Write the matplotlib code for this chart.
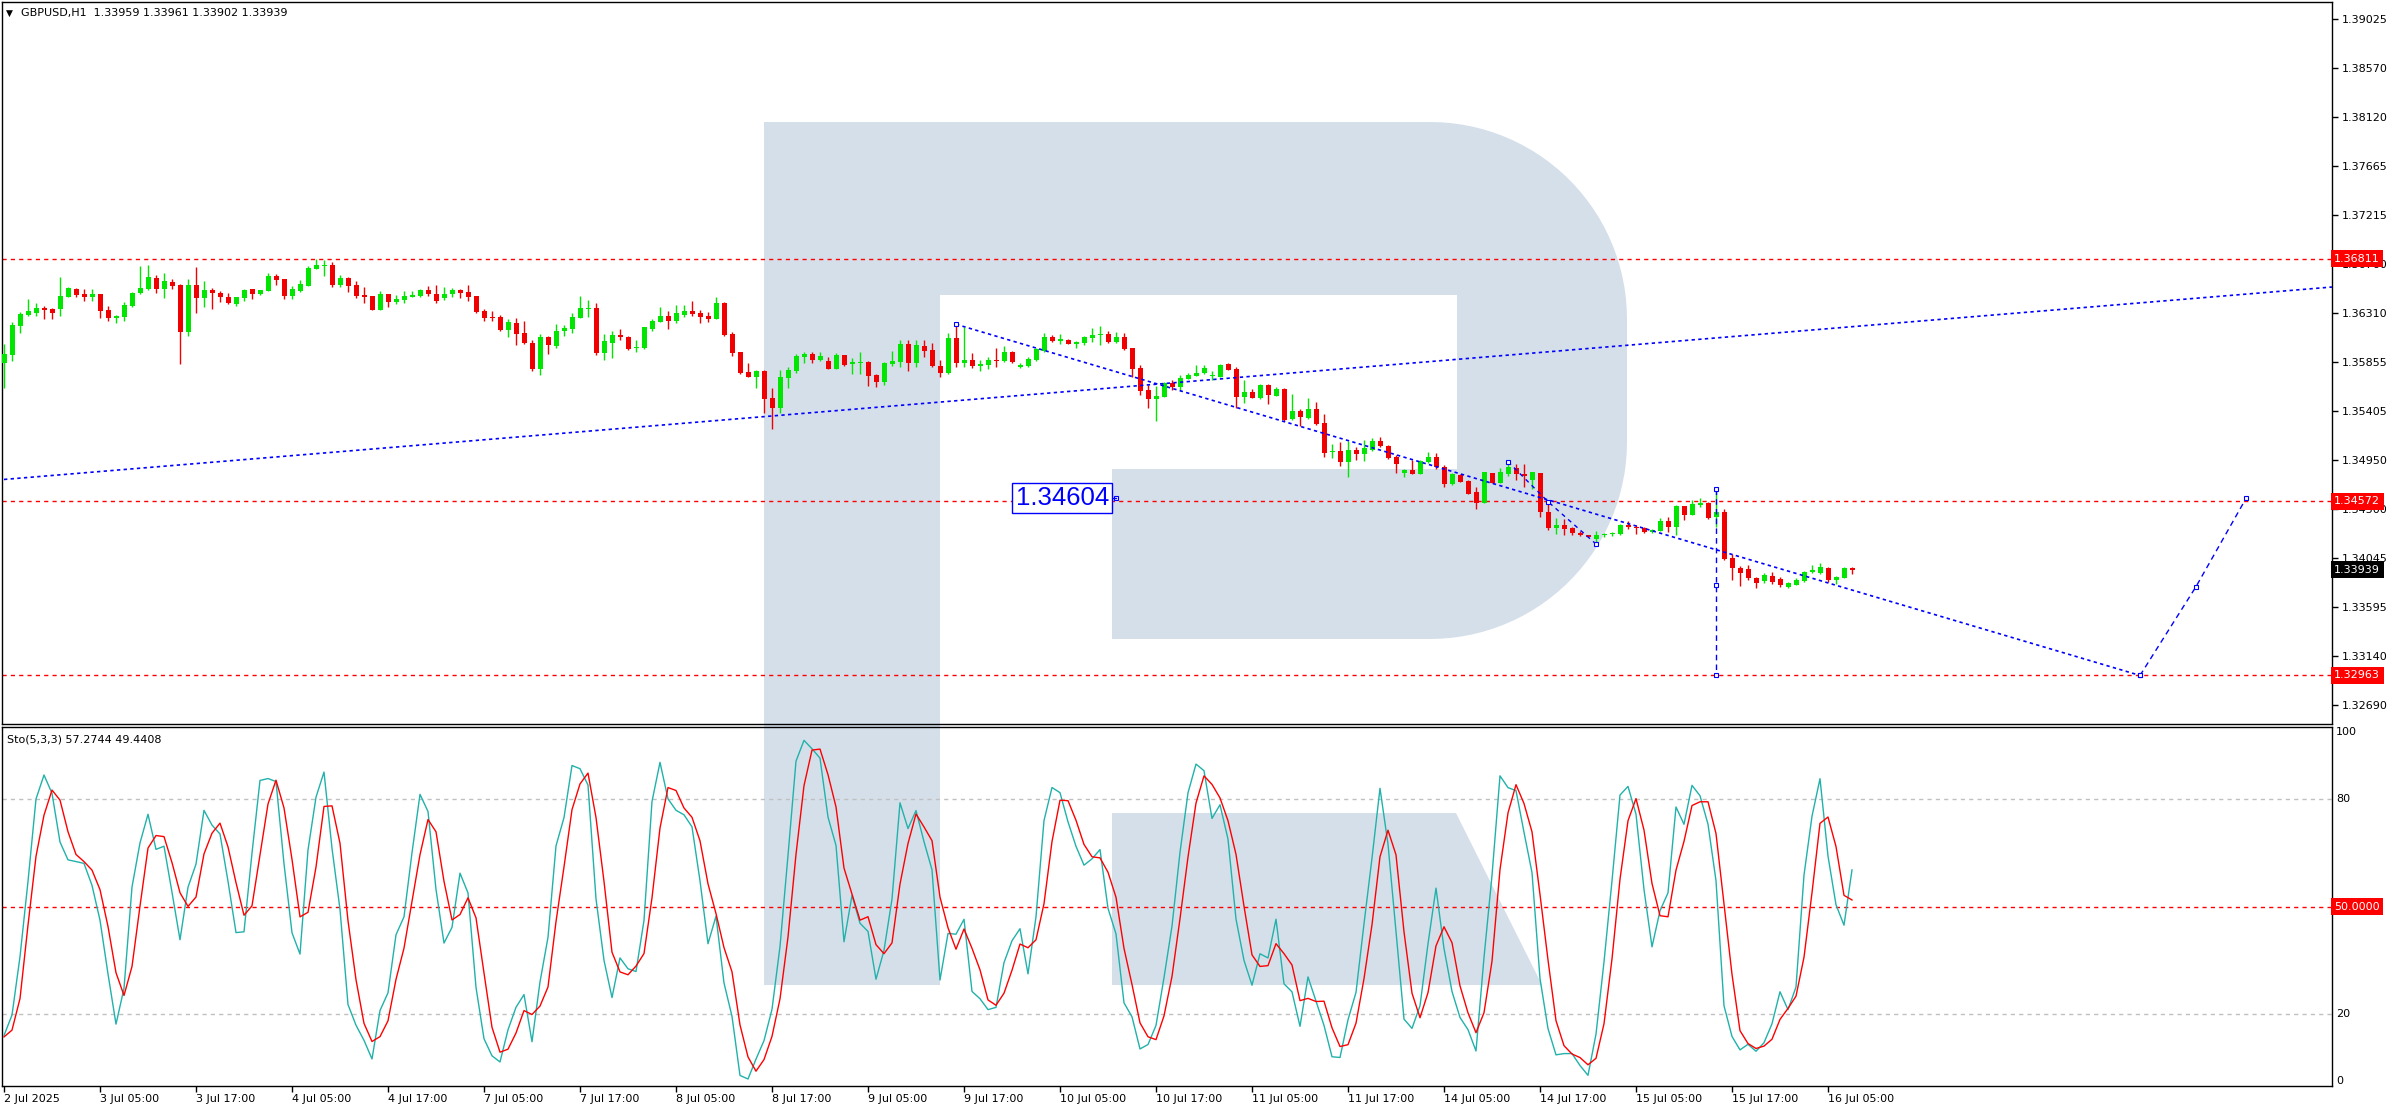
import numpy as np
import pandas as pd
import matplotlib
matplotlib.use("Agg")
import matplotlib.pyplot as plt
from matplotlib.patches import Polygon, Rectangle
from matplotlib.transforms import blended_transform_factory

# ---------------- data (GBPUSD H1, bars from 2 Jul 17:00 to 16 Jul 08:00) ----------------
opens = [1.35851,1.35922,1.36190,1.36291,1.36307,1.36356,1.36347,1.36347,1.36461,1.36531,
 1.36485,1.36461,1.36485,1.36337,1.36267,1.36276,1.36377,1.36491,1.36531,1.36633,
 1.36531,1.36596,1.36568,1.36137,1.36568,1.36451,1.36522,1.36491,1.36454,1.36396,
 1.36448,1.36528,1.36488,1.36516,1.36652,1.36624,1.36470,1.36513,1.36562,1.36716,
 1.36747,1.36756,1.36568,1.36633,1.36568,1.36476,1.36467,1.36337,1.36485,1.36411,
 1.36430,1.36458,1.36467,1.36522,1.36485,1.36448,1.36485,1.36522,1.36507,1.36467,
 1.36328,1.36273,1.36273,1.36153,1.36214,1.36122,1.36032,1.35795,1.36088,1.36005,
 1.36143,1.36165,1.36267,1.36347,1.36356,1.35940,1.36036,1.36106,1.36088,1.35989,
 1.35986,1.36162,1.36230,1.36282,1.36236,1.36291,1.36328,1.36310,1.36282,1.36254,
 1.36402,1.36116,1.35949,1.35765,1.35721,1.35774,1.35524,1.35432,1.35709,1.35774,
 1.35906,1.35931,1.35876,1.35866,1.35792,1.35922,1.35836,1.35851,1.35857,1.35737,
 1.35675,1.35842,1.35857,1.36027,1.35851,1.36005,1.35968,1.35820,1.35759,1.36079,
 1.35845,1.35876,1.35823,1.35829,1.35876,1.35866,1.35950,1.35808,1.35823,1.35876,
 1.35962,1.36088,1.36051,1.36060,1.36027,1.36036,1.36082,1.36104,1.36116,1.36042,
 1.36088,1.35986,1.35802,1.35601,1.35515,1.35534,1.35660,1.35629,1.35703,1.35728,
 1.35752,1.35725,1.35722,1.35839,1.35792,1.35534,1.35580,1.35524,1.35645,1.35546,
 1.35608,1.35327,1.35404,1.35340,1.35426,1.35293,1.35026,1.35035,1.34936,1.35044,
 1.35010,1.35044,1.35127,1.35084,1.34976,1.34828,1.34859,1.34825,1.34933,1.34982,
 1.34887,1.34727,1.34813,1.34761,1.34656,1.34560,1.34828,1.34742,1.34823,1.34876,
 1.34823,1.34768,1.34829,1.34475,1.34321,1.34352,1.34327,1.34275,1.34260,1.34220,
 1.34257,1.34266,1.34269,1.34352,1.34337,1.34327,1.34284,1.34300,1.34389,1.34337,
 1.34528,1.34444,1.34537,1.34558,1.34429,1.34475,1.34044,1.33958,1.33945,1.33865,
 1.33835,1.33881,1.33850,1.33782,1.33801,1.33838,1.33918,1.33912,1.33958,1.33844,
 1.33865,1.33959]
highs = [1.36023,1.36230,1.36322,1.36439,1.36399,1.36374,1.36353,1.36642,1.36550,1.36538,
 1.36531,1.36531,1.36488,1.36374,1.36288,1.36414,1.36507,1.36744,1.36753,1.36661,
 1.36682,1.36621,1.36575,1.36621,1.36735,1.36605,1.36538,1.36513,1.36491,1.36461,
 1.36528,1.36535,1.36522,1.36682,1.36667,1.36624,1.36559,1.36615,1.36744,1.36811,
 1.36799,1.36778,1.36658,1.36639,1.36608,1.36553,1.36470,1.36516,1.36488,1.36476,
 1.36513,1.36513,1.36531,1.36559,1.36568,1.36553,1.36544,1.36531,1.36568,1.36470,
 1.36344,1.36328,1.36291,1.36251,1.36260,1.36236,1.36060,1.36113,1.36094,1.36208,
 1.36199,1.36307,1.36467,1.36430,1.36402,1.36116,1.36143,1.36162,1.36097,1.36060,
 1.36180,1.36254,1.36365,1.36328,1.36384,1.36384,1.36421,1.36337,1.36319,1.36458,
 1.36408,1.36134,1.35952,1.35845,1.35780,1.35783,1.35617,1.35783,1.35814,1.35931,
 1.35953,1.35953,1.35953,1.35906,1.35943,1.35925,1.35897,1.35953,1.35870,1.35749,
 1.35860,1.35959,1.36063,1.36063,1.36060,1.36060,1.36036,1.35876,1.36128,1.36205,
 1.36184,1.35937,1.35876,1.35900,1.35990,1.36005,1.35959,1.35845,1.35906,1.35983,
 1.36128,1.36110,1.36116,1.36067,1.36054,1.36097,1.36174,1.36193,1.36147,1.36137,
 1.36122,1.35990,1.35832,1.35648,1.35632,1.35675,1.35691,1.35740,1.35752,1.35829,
 1.35829,1.35771,1.35836,1.35851,1.35814,1.35691,1.35608,1.35651,1.35651,1.35629,
 1.35614,1.35561,1.35426,1.35528,1.35491,1.35377,1.35099,1.35121,1.35127,1.35075,
 1.35133,1.35158,1.35167,1.35087,1.34998,1.34865,1.34952,1.34952,1.35029,1.35013,
 1.34905,1.34831,1.34822,1.34764,1.34705,1.34844,1.34831,1.34881,1.34943,1.34916,
 1.34916,1.34845,1.34832,1.34568,1.34420,1.34404,1.34330,1.34297,1.34263,1.34297,
 1.34281,1.34287,1.34361,1.34389,1.34352,1.34330,1.34315,1.34420,1.34429,1.34537,
 1.34531,1.34583,1.34598,1.34568,1.34682,1.34497,1.34084,1.33973,1.33982,1.33875,
 1.33905,1.33918,1.33875,1.33828,1.33859,1.33930,1.33982,1.33998,1.33961,1.33881,
 1.33961,1.33961]
lows = [1.35614,1.35869,1.36128,1.36282,1.36285,1.36254,1.36254,1.36282,1.36458,1.36458,
 1.36421,1.36421,1.36263,1.36239,1.36220,1.36239,1.36362,1.36485,1.36525,1.36498,
 1.36448,1.36535,1.35838,1.36097,1.36313,1.36362,1.36347,1.36414,1.36393,1.36374,
 1.36424,1.36439,1.36479,1.36516,1.36568,1.36436,1.36436,1.36507,1.36562,1.36716,
 1.36655,1.36553,1.36553,1.36507,1.36448,1.36405,1.36334,1.36337,1.36368,1.36390,
 1.36405,1.36454,1.36461,1.36467,1.36405,1.36430,1.36454,1.36451,1.36421,1.36307,
 1.36236,1.36236,1.36143,1.36091,1.36014,1.36020,1.35777,1.35737,1.35931,1.35983,
 1.36097,1.36128,1.36267,1.36273,1.35922,1.35875,1.35897,1.36060,1.35968,1.35949,
 1.35980,1.36143,1.36230,1.36162,1.36217,1.36276,1.36285,1.36217,1.36230,1.36254,
 1.36097,1.35912,1.35746,1.35721,1.35617,1.35386,1.35238,1.35386,1.35617,1.35758,
 1.35851,1.35845,1.35870,1.35792,1.35789,1.35823,1.35746,1.35746,1.35635,1.35626,
 1.35645,1.35823,1.35814,1.35774,1.35814,1.35903,1.35811,1.35722,1.35749,1.35814,
 1.35814,1.35799,1.35777,1.35792,1.35814,1.35854,1.35845,1.35805,1.35814,1.35870,
 1.35953,1.36045,1.36020,1.36023,1.35990,1.36011,1.36042,1.36011,1.36036,1.36036,
 1.35968,1.35715,1.35552,1.35432,1.35315,1.35530,1.35598,1.35589,1.35697,1.35725,
 1.35746,1.35691,1.35715,1.35780,1.35429,1.35481,1.35521,1.35518,1.35469,1.35540,
 1.35315,1.35324,1.35266,1.35334,1.35272,1.34976,1.34973,1.34899,1.34798,1.34955,
 1.34942,1.35040,1.35075,1.34958,1.34835,1.34798,1.34819,1.34819,1.34927,1.34872,
 1.34705,1.34724,1.34745,1.34637,1.34499,1.34551,1.34736,1.34736,1.34805,1.34768,
 1.34700,1.34685,1.34423,1.34306,1.34266,1.34260,1.34257,1.34250,1.34238,1.34167,
 1.34244,1.34250,1.34260,1.34312,1.34266,1.34275,1.34275,1.34300,1.34290,1.34260,
 1.34398,1.34441,1.34521,1.34407,1.34337,1.34029,1.33844,1.33788,1.33844,1.33773,
 1.33813,1.33807,1.33782,1.33770,1.33795,1.33828,1.33905,1.33899,1.33828,1.33807,
 1.33859,1.33902]
closes = [1.35931,1.36199,1.36300,1.36328,1.36356,1.36337,1.36310,1.36467,1.36544,1.36479,
 1.36461,1.36485,1.36331,1.36263,1.36282,1.36384,1.36498,1.36538,1.36642,1.36535,
 1.36605,1.36562,1.36137,1.36568,1.36451,1.36522,1.36498,1.36461,1.36405,1.36454,
 1.36522,1.36488,1.36522,1.36652,1.36615,1.36470,1.36531,1.36578,1.36725,1.36753,
 1.36756,1.36568,1.36633,1.36562,1.36467,1.36461,1.36337,1.36485,1.36414,1.36439,
 1.36467,1.36476,1.36522,1.36488,1.36424,1.36485,1.36522,1.36498,1.36458,1.36322,
 1.36267,1.36267,1.36153,1.36227,1.36116,1.36036,1.35795,1.36088,1.36014,1.36143,
 1.36171,1.36273,1.36356,1.36356,1.35940,1.36051,1.36106,1.36088,1.35977,1.35996,
 1.36180,1.36239,1.36282,1.36236,1.36310,1.36328,1.36300,1.36273,1.36254,1.36402,
 1.36106,1.35940,1.35755,1.35721,1.35774,1.35515,1.35432,1.35718,1.35783,1.35912,
 1.35931,1.35876,1.35913,1.35795,1.35922,1.35829,1.35857,1.35857,1.35728,1.35675,
 1.35851,1.35866,1.36027,1.35851,1.36011,1.35962,1.35820,1.35759,1.36079,1.35848,
 1.35876,1.35823,1.35839,1.35876,1.35870,1.35950,1.35860,1.35829,1.35885,1.35977,
 1.36088,1.36054,1.36067,1.36027,1.36042,1.36088,1.36110,1.36110,1.36042,1.36088,
 1.35980,1.35796,1.35592,1.35515,1.35546,1.35660,1.35629,1.35709,1.35734,1.35759,
 1.35799,1.35731,1.35829,1.35786,1.35534,1.35580,1.35528,1.35645,1.35552,1.35608,
 1.35321,1.35404,1.35346,1.35426,1.35284,1.35016,1.35035,1.34936,1.35044,1.35010,
 1.35066,1.35127,1.35084,1.34970,1.34918,1.34859,1.34825,1.34939,1.34982,1.34887,
 1.34733,1.34819,1.34748,1.34640,1.34560,1.34838,1.34742,1.34844,1.34885,1.34823,
 1.34805,1.34839,1.34469,1.34327,1.34352,1.34318,1.34275,1.34257,1.34244,1.34260,
 1.34269,1.34275,1.34352,1.34330,1.34321,1.34287,1.34306,1.34389,1.34337,1.34528,
 1.34444,1.34543,1.34552,1.34414,1.34475,1.34035,1.33952,1.33912,1.33859,1.33819,
 1.33887,1.33828,1.33795,1.33813,1.33844,1.33921,1.33936,1.33967,1.33844,1.33875,
 1.33952,1.33939]

# stochastic values of the first bars (window not complete inside the visible data)
k_head = [14.0, 19.7, 36.0, 57.0, 80.0, 86.7]
d_head = [13.6, 15.5, 24.3, 44.8, 64.0, 75.5, 82.5, 79.7]

time_labels = ['2 Jul 2025', '3 Jul 05:00', '3 Jul 17:00', '4 Jul 05:00', '4 Jul 17:00',
               '7 Jul 05:00', '7 Jul 17:00', '8 Jul 05:00', '8 Jul 17:00', '9 Jul 05:00',
               '9 Jul 17:00', '10 Jul 05:00', '10 Jul 17:00', '11 Jul 05:00', '11 Jul 17:00',
               '14 Jul 05:00', '14 Jul 17:00', '15 Jul 05:00', '15 Jul 17:00', '16 Jul 05:00']
time_label_bars = list(range(0, 240, 12))[:len(time_labels)]

price_ticks = [1.39025, 1.38570, 1.38120, 1.37665, 1.37215, 1.36760, 1.36310, 1.35855,
               1.35405, 1.34950, 1.34500, 1.34045, 1.33595, 1.33140, 1.32690]
level_lines = [1.36811, 1.34572, 1.32963]
last_price = 1.33939

trend_x = [0, 291]
trend_y = [1.34773, 1.36550]
chan_x = [119, 267]
chan_y = [1.36206, 1.32963]
wave_x = [188, 193, 199]
wave_y = [1.34937, 1.34568, 1.34177]
vert_x = [214, 214, 214]
vert_y = [1.34682, 1.33798, 1.32963]
fc_x = [267, 274, 280.3]
fc_y = [1.32963, 1.33783, 1.34604]
label_price = 1.34604
label_bar = 139

# ---------------- figure ----------------
W, H = 2396, 1110
fig = plt.figure(figsize=(W / 100, H / 100), dpi=100)
fig.patch.set_facecolor('white')

def fr(x0, y0, x1, y1):
    return [x0 / W, 1 - y1 / H, (x1 - x0) / W, (y1 - y0) / H]

# watermark logo in background (pixel coordinates)
bg = fig.add_axes([0, 0, 1, 1], zorder=0)
bg.set_xlim(0, W)
bg.set_ylim(H, 0)
bg.axis('off')
wm = '#D5DFEA'
r = 197
cx = 1627 - r
pts = [(764, 122), (cx, 122)]
for t in np.linspace(0, np.pi / 2, 30):
    pts.append((cx + r * np.sin(t), 122 + r - r * np.cos(t)))
for t in np.linspace(0, np.pi / 2, 30):
    pts.append((cx + r * np.cos(t), 639 - r + r * np.sin(t)))
pts += [(cx, 639), (764, 639)]
bg.add_patch(Polygon(pts, closed=True, fc=wm, ec='none'))
bg.add_patch(Rectangle((940, 295), 1457 - 940, 469 - 295, fc='white', ec='none'))
bg.add_patch(Rectangle((940, 469), 1112 - 940, 639 - 469, fc='white', ec='none'))
bg.add_patch(Rectangle((764, 122), 940 - 764, 985 - 122, fc=wm, ec='none'))
bg.add_patch(Polygon([(1112, 813), (1456, 813), (1542, 985), (1112, 985)], closed=True, fc=wm, ec='none'))

axm = fig.add_axes(fr(2, 2, 2332, 724), zorder=1)
axs = fig.add_axes(fr(2, 727, 2332, 1086), zorder=1)
for ax in (axm, axs):
    ax.set_facecolor('none')
    for s in ax.spines.values():
        s.set_color('black')
        s.set_linewidth(1)

n = len(closes)
x = np.arange(n)
o = np.array(opens); h = np.array(highs); l = np.array(lows); c = np.array(closes)
up = c >= o
bull, bear = '#00E600', '#F00000'
cols = np.where(up, bull, bear)
axm.vlines(x, l, h, colors=cols, linewidth=1, zorder=3)
body = np.maximum(np.abs(c - o), 0.00009)
axm.bar(x, body, bottom=np.minimum(o, c), width=0.625, color=cols, linewidth=0, zorder=4)

axm.set_xlim(-0.25, 291.0)
axm.set_ylim(1.325147, 1.391820)

for lv in level_lines:
    axm.axhline(lv, color='#FF0000', ls=(0, (3, 3)), lw=1, zorder=2)

blue = '#0000FF'
axm.plot(trend_x, trend_y, color=blue, ls=(0, (2, 2)), lw=1.2, zorder=5)
axm.plot(chan_x, chan_y, color=blue, ls=(0, (2, 2)), lw=1.2, zorder=5)
axm.plot(wave_x, wave_y, color=blue, ls=(0, (3, 3)), lw=1, zorder=5)
axm.plot(vert_x, vert_y, color=blue, ls=(0, (4, 3)), lw=1, zorder=5)
axm.plot(fc_x, fc_y, color=blue, ls=(0, (4, 3)), lw=1, zorder=5)
mk = dict(ls='none', marker='s', ms=3.5, mfc='white', mec=blue, mew=0.8, zorder=6)
axm.plot([chan_x[0], chan_x[1]], [chan_y[0], chan_y[1]], **mk)
axm.plot(wave_x, wave_y, **mk)
axm.plot(vert_x, vert_y, **mk)
axm.plot(fc_x, fc_y, **mk)
axm.plot([label_bar], [label_price], **mk)

axm.text(label_bar - 0.9, label_price, '1.34604', ha='right', va='center', color=blue,
         fontsize=18.5, family='Liberation Sans', zorder=7,
         bbox=dict(boxstyle='square,pad=0.12', fc='white', ec=blue, lw=1))
axm.plot([label_bar - 0.9, label_bar], [label_price, label_price], color=blue, lw=1, zorder=6)

# right price axis
axm.yaxis.tick_right()
axm.set_yticks(price_ticks)
axm.set_yticklabels([f'{v:.5f}' for v in price_ticks])
axm.tick_params(axis='y', direction='out', length=4, width=1, pad=3, labelsize=8, colors='black')
axm.tick_params(axis='x', bottom=False, labelbottom=False)

tr = blended_transform_factory(axm.transAxes, axm.transData)
for lv in level_lines:
    axm.text(1.0009, lv, f'{lv:.5f}', transform=tr, ha='left', va='center', fontsize=8,
             color='white', zorder=10, clip_on=False,
             bbox=dict(boxstyle='square,pad=0.32', fc='#FF0000', ec='none'))
axm.text(1.0009, last_price, f'{last_price:.5f}', transform=tr, ha='left', va='center', fontsize=8,
         color='white', zorder=10, clip_on=False,
         bbox=dict(boxstyle='square,pad=0.32', fc='black', ec='none'))

# ---------------- stochastic (5,3,3) ----------------
hs, ls_, cs = pd.Series(h), pd.Series(l), pd.Series(c)
hh = hs.rolling(5).max()
ll = ls_.rolling(5).min()
k = 100 * (cs - ll).rolling(3).sum() / (hh - ll).rolling(3).sum()
k = k.to_numpy()
k[:len(k_head)] = k_head
d = pd.Series(k).rolling(3).mean().to_numpy()
d[:len(d_head)] = d_head

axs.plot(x, k, color='#20B2AA', lw=1, zorder=4)
axs.plot(x, d, color='#FF0000', lw=1, zorder=5)
axs.axhline(80, color='#C0C0C0', ls=(0, (3, 3)), lw=1, zorder=2)
axs.axhline(20, color='#C0C0C0', ls=(0, (3, 3)), lw=1, zorder=2)
axs.axhline(50, color='#FF0000', ls=(0, (3, 3)), lw=1, zorder=2)
axs.set_xlim(-0.25, 291.0)
axs.set_ylim(-0.1, 100.1)
axs.set_yticks([])
trs = blended_transform_factory(axs.transAxes, axs.transData)
axs.text(1.0017, 100, '100', transform=trs, ha='left', va='top', fontsize=8, clip_on=False)
axs.text(1.0017, 80, '80', transform=trs, ha='left', va='center', fontsize=8, clip_on=False)
axs.text(1.0017, 20, '20', transform=trs, ha='left', va='center', fontsize=8, clip_on=False)
axs.text(1.0017, 0, '0', transform=trs, ha='left', va='bottom', fontsize=8, clip_on=False)
axs.text(1.0009, 50, '50.0000', transform=trs, ha='left', va='center', fontsize=8, color='white',
         clip_on=False, zorder=10, bbox=dict(boxstyle='square,pad=0.32', fc='#FF0000', ec='none'))

axs.set_xticks(time_label_bars)
axs.set_xticklabels(time_labels)
axs.tick_params(axis='x', direction='out', length=4, width=1, pad=2, labelsize=8, colors='black')
for lab in axs.get_xticklabels():
    lab.set_ha('left')

# headers
fig.text(6 / W, 1 - 13 / H, '\u25BC', fontsize=6.5, va='center', ha='left')
fig.text(21 / W, 1 - 13 / H, 'GBPUSD,H1  1.33959 1.33961 1.33902 1.33939', fontsize=8,
         va='center', ha='left')
fig.text(7 / W, 1 - 740 / H, 'Sto(5,3,3) 57.2744 49.4408', fontsize=8, va='center', ha='left')

fig.savefig('out.png', dpi=100, facecolor='white')
